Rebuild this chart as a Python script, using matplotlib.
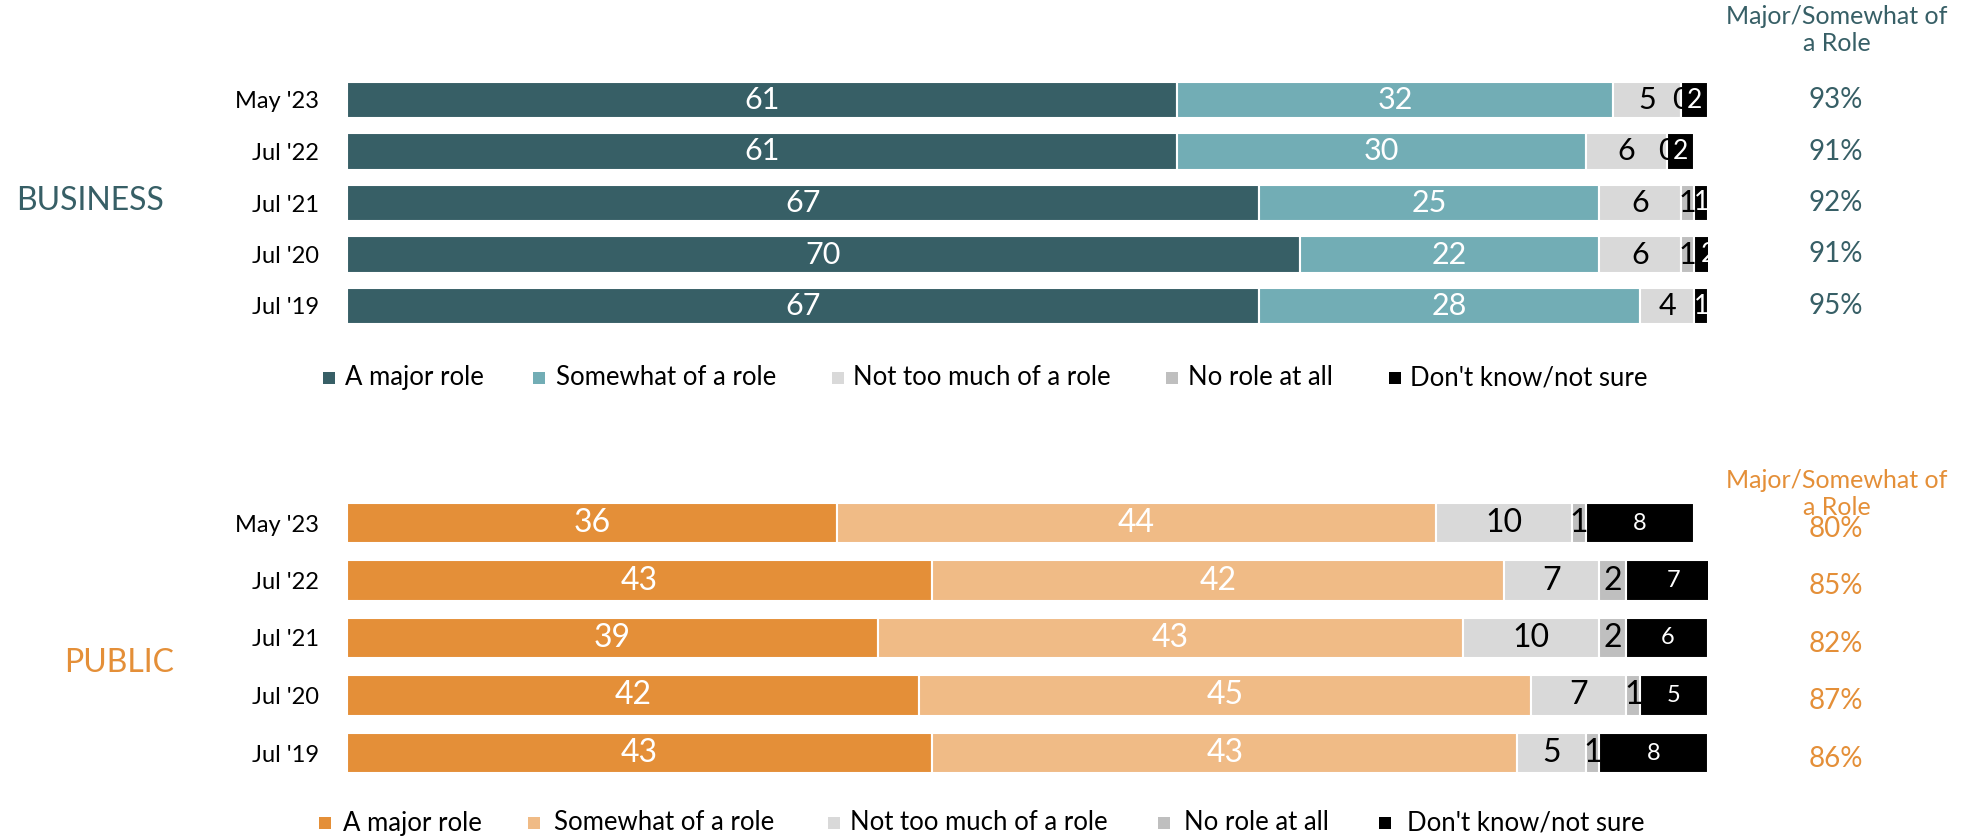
import numpy as np
import matplotlib
matplotlib.use('Agg')
import matplotlib.pyplot as plt
from matplotlib.patches import Rectangle
from matplotlib import transforms

plt.rcParams['font.family'] = ['Lato', 'DejaVu Sans']

waves = ["May '23", "Jul '22", "Jul '21", "Jul '20", "Jul '19"]
legend_labels = ["A major role", "Somewhat of a role", "Not too much of a role",
                 "No role at all", "Don't know/not sure"]

# business
biz_major = [61, 61, 67, 70, 67]
biz_somewhat = [32, 30, 25, 22, 28]
biz_not_much = [5, 6, 6, 6, 4]
biz_no_role = [0, 0, 1, 1, np.nan]
biz_dk = [2, 2, 1, 2, 1]
biz_net = [93, 91, 92, 91, 95]

# public
pub_major = [36, 43, 39, 42, 43]
pub_somewhat = [44, 42, 43, 45, 43]
pub_not_much = [10, 7, 10, 7, 5]
pub_no_role = [1, 2, 2, 1, 1]
pub_dk = [8, 7, 6, 5, 8]
pub_net = [80, 85, 82, 87, 86]

TEAL = '#375f66'
ORANGE = '#e48f38'
biz_colors = [TEAL, '#72adb5', '#d9d9d9', '#bfbfbf', '#000000']
pub_colors = [ORANGE, '#f0bb86', '#d9d9d9', '#bfbfbf', '#000000']
label_colors = ['white', 'white', 'black', 'black', 'white']

W, H = 1962, 840
fig = plt.figure(figsize=(W / 100, H / 100), dpi=100)


def px_axes(top, bottom):
    left, right = 347, 1708
    return fig.add_axes([left / W, 1 - bottom / H, (right - left) / W, (bottom - top) / H])


def draw_group(ax, series, colors, net, accent, main_size, dk_size, bar_h, net_shift=0.0):
    y = np.arange(len(waves))
    left = np.zeros(len(waves))
    for k, (vals, col) in enumerate(zip(series, colors)):
        v = np.nan_to_num(np.array(vals, dtype=float))
        ax.barh(y, v, left=left, height=bar_h, color=col, edgecolor='white', linewidth=1.5)
        fs = dk_size if k == 4 else main_size
        for i, raw in enumerate(vals):
            if np.isnan(raw):
                continue
            ax.text(left[i] + v[i] / 2, y[i], str(int(raw)), ha='center', va='center',
                    fontsize=fs, color=label_colors[k], zorder=5)
        left += v
    ax.set_xlim(0, 100)
    ax.set_ylim(len(waves) - 0.5, -0.5)
    ax.set_yticks(y, waves)
    ax.tick_params(axis='y', length=0, pad=20, labelsize=17)
    ax.set_xticks([])
    for s in ax.spines.values():
        s.set_visible(False)
    tr = transforms.blended_transform_factory(fig.transFigure, ax.transData)
    for i, n in enumerate(net):
        ax.text(1836 / W, y[i] + net_shift, f"{n}%", transform=tr, ha='center', va='center',
                fontsize=20, color=accent, clip_on=False)


def draw_legend(ycen, colors, sq_x, txt_x):
    for col, lab, sx, tx in zip(colors, legend_labels, sq_x, txt_x):
        fig.add_artist(Rectangle((sx / W, 1 - (ycen + 6) / H), 12 / W, 12 / H,
                                 transform=fig.transFigure, color=col, lw=0))
        fig.text(tx / W, 1 - ycen / H, lab, ha='left', va='center', fontsize=18.5, color='black')


ax_b = px_axes(74.25, 331.75)
draw_group(ax_b, [biz_major, biz_somewhat, biz_not_much, biz_no_role, biz_dk],
           biz_colors, biz_net, TEAL, 22, 19, 0.70)
ax_p = px_axes(494.25, 781.75)
draw_group(ax_p, [pub_major, pub_somewhat, pub_not_much, pub_no_role, pub_dk],
           pub_colors, pub_net, ORANGE, 23, 17, 0.70, net_shift=0.1)

fig.text(16 / W, 1 - 201 / H, "BUSINESS", ha='left', va='center', fontsize=23, color=TEAL)
fig.text(64 / W, 1 - 663 / H, "PUBLIC", ha='left', va='center', fontsize=23, color=ORANGE)

fig.text(1837 / W, 1 - 30 / H, "Major/Somewhat of\na Role", ha='center', va='center',
         fontsize=18, color=TEAL, linespacing=1.25)
fig.text(1837 / W, 1 - 494 / H, "Major/Somewhat of\na Role", ha='center', va='center',
         fontsize=18, color=ORANGE, linespacing=1.25)

draw_legend(378, biz_colors, [323, 533, 832, 1166, 1389], [345, 556, 853, 1188, 1410])
draw_legend(823, pub_colors, [319, 528, 828, 1158, 1379], [343, 554, 850, 1184, 1407])

fig.savefig('out.png', dpi=100)
